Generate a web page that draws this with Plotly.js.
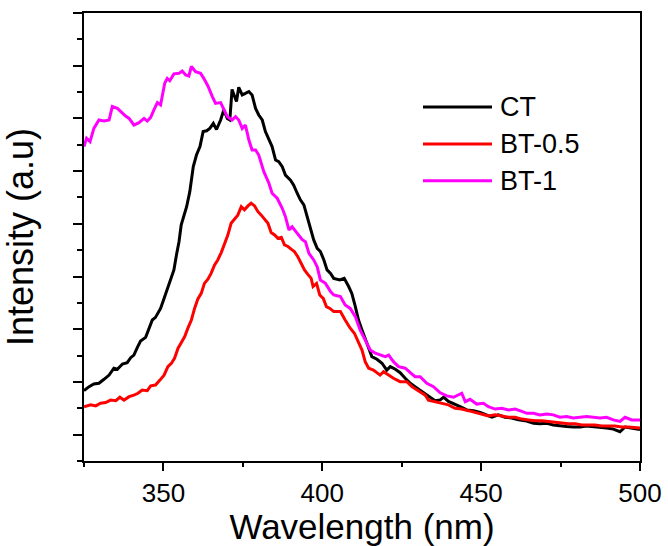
<!DOCTYPE html>
<html>
<head>
<meta charset="utf-8">
<script src="https://cdn.plot.ly/plotly-3.0.1.min.js"></script>
<style>html,body{margin:0;padding:0;background:#fff;}#chart{width:668px;height:546px;}</style>
</head>
<body>
<div id="chart"></div>
<script>
// Wavelength (nm) and intensity (a.u.)
const ctX = [325,326.6,328.1,329.7,331.3,332.9,334.4,335.5,337.1,338.6,339.7,340.7,341.8,342.8,344.4,345.4,346.5,347.5,349.1,350.2,351.2,352.5,353.3,354.1,354.9,355.6,356.4,357.3,358.3,359.4,360.4,361.5,362.5,363.6,364.6,365.7,366.7,368.0,369.0,370.1,370.9,371.6,372.4,373.0,373.7,374.8,375.8,376.9,377.9,379.0,380.0,381.1,382.1,383.2,384.2,385.3,386.3,387.4,388.4,390.0,391.0,392.1,393.1,394.2,395.2,396.3,397.3,398.4,399.4,400.5,401.5,402.6,403.6,405.5,406.9,408.3,409.3,410.4,411.4,412.5,413.5,414.6,415.6,417.2,418.8,420.3,421.4,423.0,424.5,426.1,427.7,429.2,430.8,432.4,434.0,435.5,437.1,438.2,439.7,441.3,443.4,445.5,447.6,449.7,451.8,453.4,455.4,457.5,459.6,461.7,463.8,466.5,468.5,470.7,472.7,474.8,476.9,479.0,481.1,483.2,485.3,487.4,489.5,491.6,493.7,495.3,497.4,500];
const ctY = [2.67,2.82,2.92,2.95,3.10,3.26,3.52,3.48,3.68,3.73,3.92,4.02,4.31,4.55,4.69,5.00,5.35,5.45,5.79,6.17,6.51,6.93,7.25,7.82,8.32,8.96,9.27,9.65,10.22,11.17,11.61,11.93,12.50,12.53,12.62,12.81,12.58,12.94,13.32,13.00,12.94,14.10,13.83,13.64,14.18,13.89,13.95,14.02,13.89,13.38,13.13,12.94,12.50,12.18,11.93,11.42,11.36,11.17,10.85,10.66,10.47,10.16,9.91,9.72,9.27,8.83,8.39,8.07,7.95,7.63,7.25,7.12,6.93,6.87,6.93,6.62,6.36,5.86,5.35,4.97,4.66,4.34,3.96,3.86,3.71,3.45,3.58,3.48,3.35,3.14,2.95,2.82,2.69,2.57,2.42,2.29,2.32,2.42,2.26,2.16,2.06,1.94,1.91,1.84,1.75,1.66,1.75,1.66,1.63,1.56,1.53,1.43,1.41,1.43,1.37,1.33,1.31,1.29,1.29,1.33,1.31,1.29,1.25,1.21,1.11,1.29,1.25,1.19];

const bt05X = [325,327.1,328.7,330.2,331.8,333.4,335.0,336.3,337.6,339.2,340.7,342.0,343.3,344.9,346.0,347.5,348.9,350.2,351.4,352.5,353.5,354.6,355.6,356.7,357.7,358.8,359.8,360.8,361.9,362.9,364.0,365.0,366.1,367.1,368.2,369.2,370.3,371.3,372.4,373.4,374.5,375.5,376.6,377.6,378.7,379.7,380.8,381.8,382.9,383.9,385.0,386.0,387.1,388.1,389.2,390.2,391.2,392.3,393.3,394.4,395.4,396.5,397.1,398.2,399.2,400.3,401.3,402.4,403.6,405.7,407.2,408.8,410.1,411.4,412.5,413.5,414.6,416.1,417.2,418.2,419.3,420.9,422.4,424.5,426.6,428.2,430.3,432.4,433.4,435.5,437.6,439.7,441.8,443.9,446.0,448.1,450.2,452.3,454.4,456.5,458.6,460.7,462.8,464.9,467.0,469.1,471.2,473.3,475.4,477.5,479.6,481.7,483.7,485.8,487.9,490.0,492.1,494.2,496.3,500];
const bt05Y = [2.06,2.13,2.09,2.19,2.22,2.31,2.29,2.42,2.31,2.44,2.50,2.57,2.69,2.67,2.85,2.88,3.07,3.26,3.58,3.71,3.90,4.28,4.49,4.72,5.04,5.35,5.79,6.14,6.36,6.74,6.90,7.12,7.44,7.63,7.91,8.20,8.58,9.02,9.17,9.33,9.65,9.53,9.68,9.78,9.68,9.47,9.33,9.17,9.02,8.67,8.58,8.45,8.49,8.20,8.14,8.04,7.95,7.75,7.50,7.25,7.09,6.93,6.62,6.74,6.30,6.17,5.86,5.79,5.67,5.67,5.35,5.04,4.85,4.47,4.21,3.77,3.52,3.45,3.35,3.26,3.39,3.26,3.14,3.01,3.01,2.82,2.67,2.50,2.31,2.25,2.21,2.13,2.00,1.97,1.91,1.84,1.78,1.71,1.75,1.71,1.66,1.66,1.59,1.56,1.53,1.53,1.50,1.46,1.43,1.41,1.41,1.37,1.37,1.37,1.33,1.33,1.33,1.29,1.29,1.25];

const bt1X = [325,325.8,326.9,328.1,329.7,331.3,332.9,333.9,335.5,337.1,338.1,339.2,340.7,342.3,343.9,344.9,346.0,347.0,348.1,349.1,350.4,351.2,352.0,353.3,354.9,355.9,357.0,358.0,358.8,360.1,361.7,362.7,364.0,365.4,366.4,368.0,369.0,370.1,371.6,372.7,373.7,374.8,375.8,376.9,377.9,379.0,380.0,381.6,383.2,384.2,385.8,387.4,388.4,389.5,390.5,392.1,393.7,394.7,395.8,397.3,398.4,399.4,401.0,402.6,403.6,405.7,407.2,408.8,410.4,411.9,413.5,415.1,416.7,418.2,419.8,420.9,422.4,424.0,426.1,427.7,429.2,430.8,432.9,435.0,437.1,439.2,441.3,443.9,445.0,446.5,448.6,450.7,452.3,454.4,456.5,458.6,460.7,462.8,464.4,466.5,468.5,470.7,472.7,474.8,476.9,479.0,481.1,483.2,485.3,487.4,489.5,491.6,493.7,495.3,497.4,500];
const bt1Y = [11.93,12.25,12.12,12.62,12.94,12.90,12.94,13.45,13.38,13.19,13.09,13.00,12.75,12.84,13.00,12.90,13.04,13.32,13.60,13.51,14.33,14.52,14.43,14.69,14.71,14.80,14.65,14.61,14.97,14.77,14.71,14.52,14.23,13.83,13.57,13.60,13.32,13.07,12.94,13.07,12.94,12.62,12.75,12.18,11.80,11.80,11.61,10.98,10.54,10.16,9.97,9.59,9.27,8.77,8.89,8.64,8.40,8.32,7.88,7.63,7.37,6.87,6.74,6.43,6.30,6.24,5.92,5.79,5.48,4.97,4.59,4.21,4.09,4.02,3.96,4.02,3.77,3.58,3.52,3.35,3.20,3.20,2.95,2.82,2.59,2.47,2.42,2.57,2.25,2.34,2.16,2.19,2.06,1.97,2.00,1.94,1.97,1.88,1.81,1.81,1.75,1.78,1.75,1.66,1.69,1.63,1.66,1.69,1.66,1.63,1.66,1.56,1.50,1.66,1.56,1.56];

const seriesNames = ['CT','BT-0.5','BT-1'];
const seriesColors = ['#000000','#ff0000','#ff00ff'];
const xTickVals = [350,400,450,500];
const xTickText = ['350','400','450','500'];

const FONT = 'Liberation Sans, Arial, Helvetica, sans-serif';
const xs = [ctX, bt05X, bt1X];
const ys = [ctY, bt05Y, bt1Y];

const traces = seriesNames.map((n,i)=>({
  type:'scatter', mode:'lines', name:n, x:xs[i], y:ys[i],
  line:{color:seriesColors[i], width:3}, showlegend:false
}));

// custom legend (long line samples like the reference)
const legY = [0.790, 0.7076, 0.6257];
const shapes = [];
const annotations = [];
seriesNames.forEach((n,i)=>{
  shapes.push({type:'line', xref:'paper', yref:'paper', x0:0.6097, x1:0.7338, y0:legY[i], y1:legY[i],
    line:{color:seriesColors[i], width:3}});
  annotations.push({xref:'paper', yref:'paper', x:0.745, y:legY[i], text:n, showarrow:false,
    xanchor:'left', yanchor:'middle', font:{family:FONT, size:27, color:'#000'}});
});

const layout = {
  width:668, height:546,
  margin:{l:84, r:28, t:13, b:85, pad:0},
  paper_bgcolor:'#fff', plot_bgcolor:'#fff',
  font:{family:FONT, color:'#000'},
  xaxis:{
    range:[325,500], showgrid:false, zeroline:false,
    showline:true, linecolor:'#000', linewidth:2, mirror:true,
    tickmode:'array', tickvals:xTickVals, ticktext:xTickText,
    ticks:'outside', ticklen:8, tickwidth:2, tickcolor:'#000',
    minor:{tickmode:'linear', tick0:325, dtick:25, ticks:'outside', ticklen:4, tickwidth:2, tickcolor:'#000', showgrid:false},
    tickfont:{family:FONT, size:26, color:'#000'},
    title:{text:'Wavelength (nm)', font:{family:FONT, size:35, color:'#000'}, standoff:11},
    automargin:false
  },
  yaxis:{
    range:[0,17], showgrid:false, zeroline:false,
    showline:true, linecolor:'#000', linewidth:2, mirror:true,
    tickmode:'linear', tick0:1, dtick:2, showticklabels:false,
    ticks:'outside', ticklen:9, tickwidth:2, tickcolor:'#000',
    minor:{tickmode:'linear', tick0:0, dtick:1, ticks:'outside', ticklen:5, tickwidth:2, tickcolor:'#000', showgrid:false},
    title:{text:'Intensity (a.u)', font:{family:FONT, size:36, color:'#000'}, standoff:30},
    automargin:false
  },
  shapes:shapes,
  annotations:annotations
};

Plotly.newPlot('chart', traces, layout, {displayModeBar:false, staticPlot:true});
</script>
</body>
</html>
